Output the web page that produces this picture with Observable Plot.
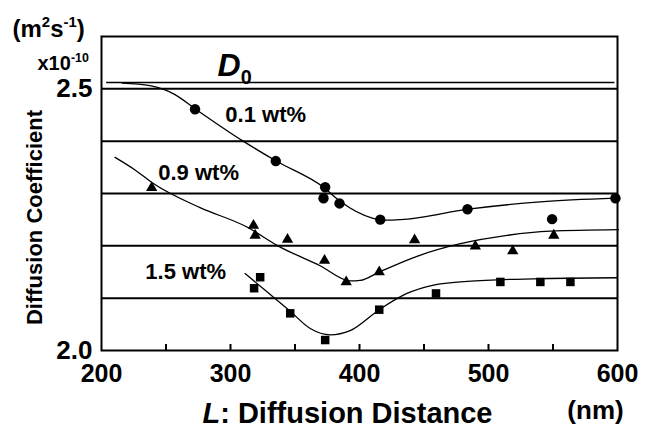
<!DOCTYPE html>
<html><head><meta charset="utf-8">
<script src="https://cdn.jsdelivr.net/npm/d3@7"></script>
<script src="https://cdn.jsdelivr.net/npm/@observablehq/plot@0.6"></script>
<style>
body{margin:0;background:#fff;}
svg{display:block;}
</style>
</head><body><div id="chart"></div>
<script>
// ---- data ----
const xTickLabels = [200, 300, 400, 500, 600];
const xMinorTicks = [250, 300, 350, 400, 450, 500, 550];
const yTickLabels = [2.0, 2.5];
const yGrid = [2.1, 2.2, 2.3, 2.4, 2.5];
const d0Value = 2.512, d0From = 204, d0To = 598;

// 0.1 wt% (circles)
const p01x = [272.5, 335.1, 373.4, 372.1, 384.5, 416.1, 483.7, 549.3, 598.4];
const p01y = [2.461, 2.362, 2.312, 2.291, 2.281, 2.250, 2.270, 2.251, 2.291];
const c01x = [216, 237.6, 257, 272.5, 309.8, 335.4, 372.6, 385, 409.9, 420, 431.6, 484.4, 540.2, 598.4];
const c01y = [2.511, 2.506, 2.489, 2.462, 2.400, 2.362, 2.311, 2.285, 2.253, 2.249, 2.250, 2.270, 2.284, 2.291];

// 0.9 wt% (triangles)
const p09x = [238.9, 317.8, 319.1, 344.2, 372.9, 389.7, 415.3, 442.7, 489.8, 518.8, 550.6];
const p09y = [2.311, 2.239, 2.220, 2.212, 2.172, 2.131, 2.150, 2.211, 2.199, 2.190, 2.220];
const c09x = [210.5, 226, 240.2, 276.4, 312.7, 336, 369.5, 392.8, 400.6, 415.3, 444.6, 478.2, 514.4, 548, 600.8];
const c09y = [2.369, 2.345, 2.319, 2.273, 2.236, 2.201, 2.162, 2.133, 2.134, 2.150, 2.180, 2.204, 2.220, 2.228, 2.231];

// 1.5 wt% (squares)
const p15x = [323, 318.3, 346.3, 373.4, 415.3, 459.3, 509.2, 540.2, 563.5];
const p15y = [2.140, 2.119, 2.071, 2.020, 2.078, 2.109, 2.131, 2.131, 2.131];
const c15x = [311.3, 326.9, 346.3, 361.8, 377.3, 392.8, 415.3, 436.8, 457.5, 483.4, 535, 599.8];
const c15y = [2.147, 2.115, 2.075, 2.042, 2.030, 2.038, 2.078, 2.109, 2.125, 2.132, 2.137, 2.139];

const seriesLabels = ["0.1 wt%", "0.9 wt%", "1.5 wt%"];
const seriesLabelX = [296, 244, 234];
const seriesLabelY = [2.450, 2.339, 2.150];

const zip = (xs, ys) => xs.map((x, i) => ({x, y: ys[i]}));
const FONT = "'Liberation Sans', Arial, Helvetica, sans-serif";

const plot = Plot.plot({
  width: 646,
  height: 428,
  marginLeft: 101,
  marginRight: 29,
  marginTop: 36,
  marginBottom: 78,
  x: {domain: [200, 600], axis: null},
  y: {domain: [2.0, 2.6], axis: null},
  style: {fontFamily: FONT, background: "#fff", color: "#000", overflow: "visible"},
  marks: [
    Plot.ruleY(yGrid, {stroke: "#000", strokeWidth: 2}),
    Plot.ruleY([d0Value], {x1: d0From, x2: d0To, stroke: "#000", strokeWidth: 1.6}),
    Plot.ruleX(xMinorTicks, {stroke: "#000", strokeWidth: 2, insetTop: 308}),
    Plot.frame({stroke: "#000", strokeWidth: 2}),
    Plot.axisX(xTickLabels, {anchor: "bottom", tickSize: 0, tickPadding: 14, fontSize: 25, fontWeight: "bold", tickFormat: d => String(d), label: null}),
    Plot.axisY(yTickLabels, {anchor: "left", tickSize: 0, tickPadding: 9, fontSize: 26, fontWeight: "bold", tickFormat: d => d.toFixed(1), label: null}),
    Plot.line(zip(c01x, c01y), {x: "x", y: "y", curve: "monotone-x", stroke: "#000", strokeWidth: 1.3}),
    Plot.line(zip(c09x, c09y), {x: "x", y: "y", curve: "monotone-x", stroke: "#000", strokeWidth: 1.3}),
    Plot.line(zip(c15x, c15y), {x: "x", y: "y", curve: "monotone-x", stroke: "#000", strokeWidth: 1.3}),
    Plot.dot(zip(p01x, p01y), {x: "x", y: "y", r: 5.2, fill: "#000", symbol: "circle"}),
    Plot.dot(zip(p09x, p09y), {x: "x", y: "y", r: 4.2, fill: "#000", symbol: "triangle"}),
    Plot.dot(zip(p15x, p15y), {x: "x", y: "y", r: 4.8, fill: "#000", symbol: "square"}),
    Plot.text(seriesLabels, {x: (d, i) => seriesLabelX[i], y: (d, i) => seriesLabelY[i], text: d => d, textAnchor: "start", fontSize: 22, fontWeight: "bold"}),
    Plot.text(["D0"], {x: 290, y: 2.545, text: d => d, textAnchor: "start", fontSize: 32, fontWeight: "bold"}),
    Plot.text(["(m2s-1)"], {frameAnchor: "top-left", dx: -89, dy: -7, text: d => d, textAnchor: "start", lineAnchor: "middle", fontSize: 24, fontWeight: "bold"}),
    Plot.text(["x10-10"], {frameAnchor: "top-left", dx: -64, dy: 27, text: d => d, textAnchor: "start", lineAnchor: "middle", fontSize: 20, fontWeight: "bold"}),
    Plot.text(["Diffusion Coefficient"], {frameAnchor: "left", dx: -67, dy: 24, rotate: -90, text: d => d, textAnchor: "middle", lineAnchor: "middle", fontSize: 22, fontWeight: "bold"}),
    Plot.text(["L: Diffusion Distance"], {frameAnchor: "bottom-left", dx: 246, dy: 63, text: d => d, textAnchor: "middle", lineAnchor: "middle", fontSize: 29, fontWeight: "bold"}),
    Plot.text(["(nm)"], {frameAnchor: "bottom-left", dx: 494, dy: 60, text: d => d, textAnchor: "middle", lineAnchor: "middle", fontSize: 26, fontWeight: "bold"})
  ]
});
document.getElementById("chart").appendChild(plot);

// rich text: superscripts, subscripts, italics
const NS = "http://www.w3.org/2000/svg";
function rich(match, segs, fs) {
  d3.select(plot).selectAll("text").filter(function () { return this.textContent === match; }).each(function () {
    const node = this;
    node.textContent = "";
    let shift = 0;
    for (const [t, kind] of segs) {
      const ts = document.createElementNS(NS, "tspan");
      ts.textContent = t;
      const target = kind === "sup" ? -0.42 : kind === "sub" ? 0.28 : 0;
      if (target !== shift) ts.setAttribute("dy", ((target - shift) * fs).toFixed(2));
      shift = target;
      if (kind === "sup" || kind === "sub") ts.setAttribute("font-size", (fs * 0.62).toFixed(1));
      if (kind === "italic") ts.setAttribute("font-style", "italic");
      node.appendChild(ts);
    }
  });
}
rich("(m2s-1)", [["(m"], ["2", "sup"], ["s"], ["-1", "sup"], [")"]], 24);
rich("x10-10", [["x10"], ["-10", "sup"]], 20);
rich("D0", [["D", "italic"], ["0", "sub"]], 32);
rich("L: Diffusion Distance", [["L", "italic"], [": Diffusion Distance"]], 29);
</script>
</body></html>
